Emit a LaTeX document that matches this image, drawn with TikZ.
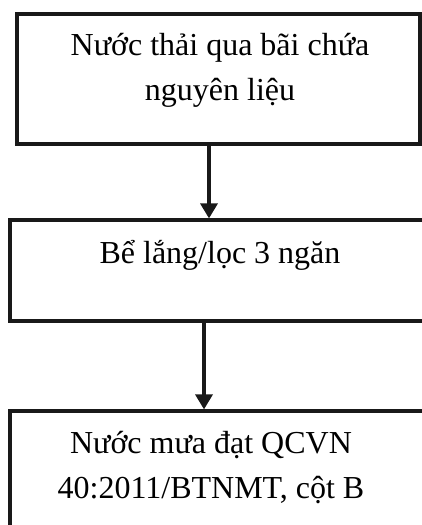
\documentclass[tikz,border=0pt]{standalone}
\usepackage{fontspec}
\setmainfont{Liberation Serif}
\usetikzlibrary{arrows.meta}
\begin{document}
\begin{tikzpicture}[x=1pt,y=-1pt,
  box/.style={draw=black!90, line width=3.2pt, rectangle, inner sep=0pt},
  lbl/.style={anchor=base, inner sep=0pt, font=\fontsize{32}{45}\selectfont},
  arr/.style={draw=black!90, line width=3.4pt, -{Triangle[width=17pt,length=15pt]}}]
\useasboundingbox (0,0) rectangle (422,525);
\clip (0,0) rectangle (422,525);
% process boxes
\node[box, minimum width=403pt, minimum height=130pt] (b1) at (218.5,79) {};
\node[box, minimum width=420pt, minimum height=101pt] (b2) at (220,270.5) {};
\node[box, minimum width=420pt, minimum height=140pt] (b3) at (220,481) {};
% labels
\node[lbl] (t1a) at (220,55) {Nước thải qua bãi chứa};
\node[lbl] (t1b) at (220,100) {nguyên liệu};
\node[lbl] (t2) at (220,263) {Bể lắng/lọc 3 ngăn};
\node[lbl] (t3a) at (211,453) {Nước mưa đạt QCVN};
\node[lbl] (t3b) at (211,498) {40:2011/BTNMT, cột B};
% connectors
\coordinate (c1) at (209,0);
\coordinate (c2) at (204,0);
\draw[arr] (b1.south -| c1) -- (b2.north -| c1);
\draw[arr] (b2.south -| c2) -- (b3.north -| c2);
\end{tikzpicture}
\end{document}
